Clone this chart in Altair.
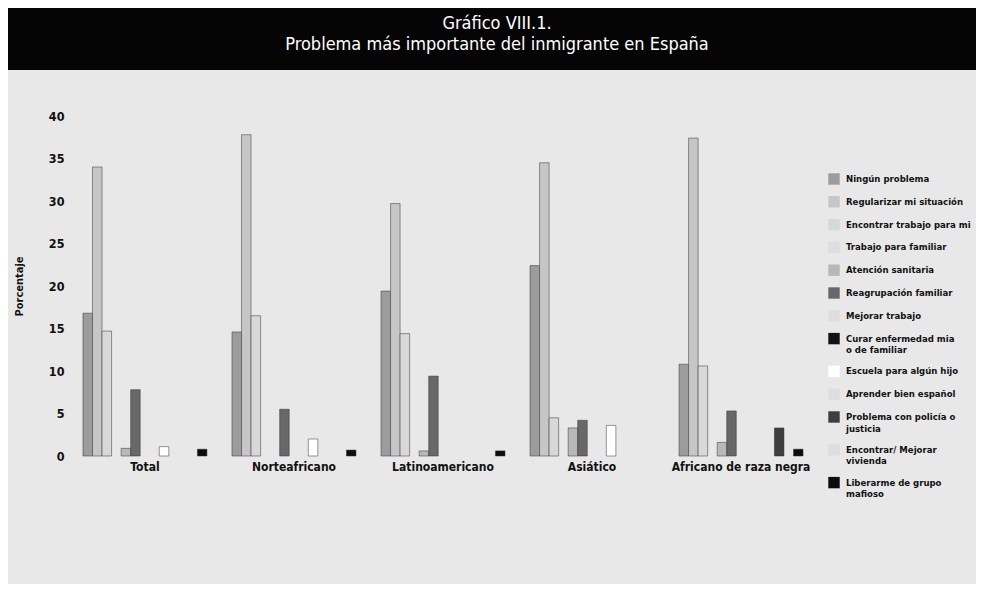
import altair as alt
import pandas as pd

groups = ["Total", "Norteafricano", "Latinoamericano", "Asiático", "Africano de raza negra"]

categories = [
    "Ningún problema",
    "Regularizar mi situación",
    "Encontrar trabajo para mi",
    "Trabajo para familiar",
    "Atención sanitaria",
    "Reagrupación familiar",
    "Mejorar trabajo",
    "Curar enfermedad mia o de familiar",
    "Escuela para algún hijo",
    "Aprender bien español",
    "Problema con policía o justicia",
    "Encontrar/ Mejorar vivienda",
    "Liberarme de grupo mafioso",
]

legend_lines = {
    "Curar enfermedad mia o de familiar": ["Curar enfermedad mia", "o de familiar"],
    "Problema con policía o justicia": ["Problema con policía o", "justicia"],
    "Encontrar/ Mejorar vivienda": ["Encontrar/ Mejorar", "vivienda"],
    "Liberarme de grupo mafioso": ["Liberarme de grupo", "mafioso"],
}

colors = ["#9c9c9c", "#c6c6c6", "#d8d8d8", "#dedede", "#b8b8b8", "#686868",
          "#dedede", "#121212", "#ffffff", "#dedede", "#3e3e3e", "#dedede", "#0c0c0c"]

# values per group, in category order (percent)
total_vals   = [16.8, 34.0, 14.7, 0, 0.9, 7.8, 0, 0, 1.1, 0, 0, 0, 0.8]
norte_vals   = [14.6, 37.8, 16.5, 0, 0, 5.5, 0, 0, 2.0, 0, 0, 0, 0.7]
latino_vals  = [19.4, 29.7, 14.4, 0, 0.6, 9.4, 0, 0, 0, 0, 0, 0, 0.6]
asia_vals    = [22.4, 34.5, 4.5, 0, 3.3, 4.2, 0, 0, 3.6, 0, 0, 0, 0]
africa_vals  = [10.8, 37.4, 10.6, 0, 1.6, 5.3, 0, 0, 0, 0, 3.3, 0, 0.8]

series = [total_vals, norte_vals, latino_vals, asia_vals, africa_vals]
y_ticks = [0, 5, 10, 15, 20, 25, 30, 35, 40]

rows = []
for g, vals in zip(groups, series):
    for c, v in zip(categories, vals):
        if v > 0:
            rows.append({"grupo": g, "problema": c, "valor": v})
df = pd.DataFrame(rows)

FONT = "DejaVu Sans Condensed, Liberation Sans Narrow, Roboto Condensed, sans-serif"

# legend label expression (multi-line labels)
expr = "datum.label"
for k, lines in legend_lines.items():
    arr = "[" + ",".join("'" + s + "'" for s in lines) + "]"
    expr = f"datum.label == '{k}' ? {arr} : ({expr})"

bars = alt.Chart(df).mark_bar(stroke="#333333", strokeWidth=0.5).encode(
    x=alt.X("grupo:N", sort=groups, title=None,
            scale=alt.Scale(paddingInner=0.168, paddingOuter=0.087),
            axis=alt.Axis(labelAngle=0, domain=False, ticks=False, labelPadding=5,
                          labelFont=FONT, labelFontSize=12, labelFontWeight="bold",
                          labelColor="#111")),
    xOffset=alt.XOffset("problema:N", sort=categories,
                        scale=alt.Scale(domain=categories, paddingInner=0, paddingOuter=0)),
    y=alt.Y("valor:Q", title="Porcentaje",
            scale=alt.Scale(domain=[0, 40], nice=False),
            axis=alt.Axis(values=y_ticks, domain=False, ticks=False, grid=False,
                          labelPadding=6, labelFont=FONT, labelFontSize=12.5,
                          labelFontWeight="bold", labelColor="#111",
                          titleFont=FONT, titleFontSize=11, titleFontWeight="bold",
                          titleColor="#111", titlePadding=24)),
    color=alt.Color("problema:N", sort=categories,
                    scale=alt.Scale(domain=categories, range=colors),
                    legend=alt.Legend(title=None, orient="none", legendX=758, legendY=57,
                                      symbolType="square", symbolSize=130,
                                      symbolStrokeWidth=0, labelFont=FONT,
                                      labelFontSize=9.5, labelFontWeight="bold",
                                      labelColor="#111", labelLimit=220, rowPadding=10.8,
                                      labelOffset=6, labelExpr=expr)),
)

banner = alt.Chart(pd.DataFrame({"k": [0]})).mark_rect(color="#050505").encode(
    x=alt.value(-62), x2=alt.value(906), y=alt.value(-108), y2=alt.value(-46)
)

chart = alt.layer(banner, bars).properties(
    width=746, height=340,
    padding={"left": 62, "top": 108, "right": 160, "bottom": 128},
    autosize=alt.AutoSizeParams(type="none"),
    background="#e8e8e8",
    title=alt.TitleParams(
        text=["Gráfico VIII.1.", "Problema más importante del inmigrante en España"],
        color="white", font=FONT, fontSize=18, fontWeight="normal",
        anchor="middle", dx=54, offset=-64, lineHeight=21, baseline="bottom",
    ),
).configure_view(stroke=None)

chart.save("out.html", embed_options={"renderer": "svg", "actions": False})
